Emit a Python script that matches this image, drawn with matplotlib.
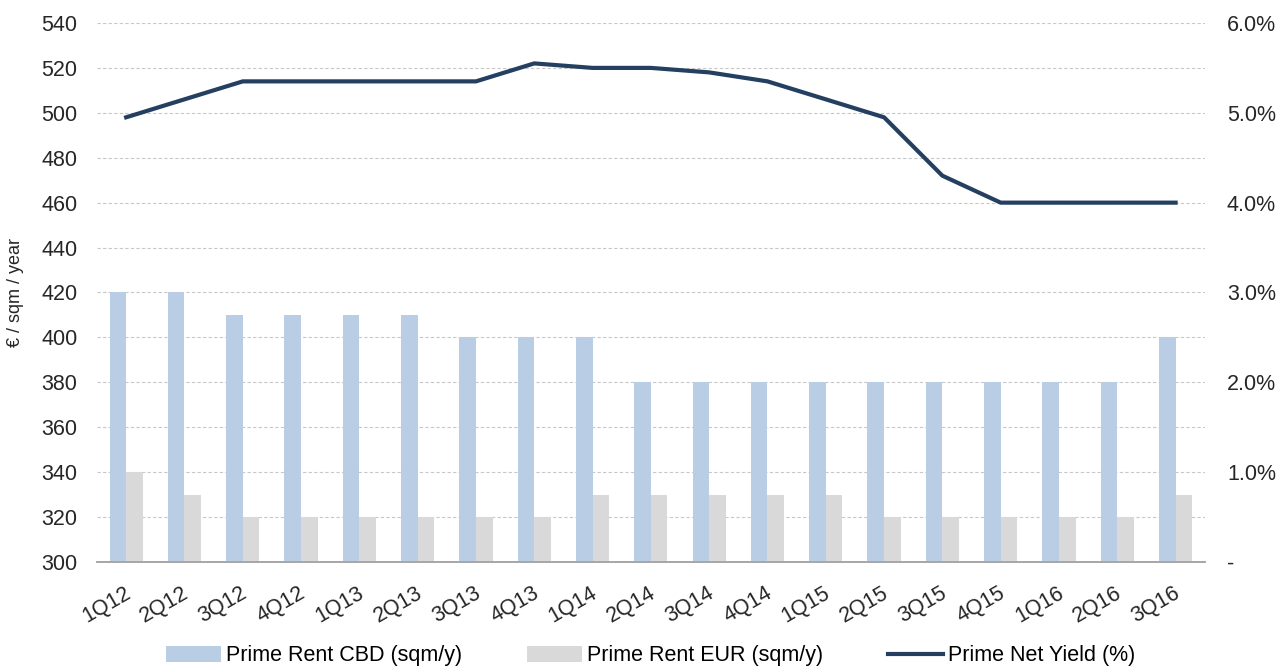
import numpy as np
import matplotlib.pyplot as plt
import matplotlib.transforms as mtransforms
from matplotlib.ticker import FuncFormatter

plt.rcParams['font.family'] = ['Liberation Sans', 'DejaVu Sans']

quarters = ['1Q12', '2Q12', '3Q12', '4Q12', '1Q13', '2Q13', '3Q13', '4Q13', '1Q14', '2Q14',
            '3Q14', '4Q14', '1Q15', '2Q15', '3Q15', '4Q15', '1Q16', '2Q16', '3Q16']
rent_cbd = [420, 420, 410, 410, 410, 410, 400, 400, 400, 380,
            380, 380, 380, 380, 380, 380, 380, 380, 400]
rent_eur = [340, 330, 320, 320, 320, 320, 320, 320, 330, 330,
            330, 330, 330, 320, 320, 320, 320, 320, 330]
net_yield = [4.95, 5.15, 5.35, 5.35, 5.35, 5.35, 5.35, 5.55, 5.5, 5.5,
             5.45, 5.35, 5.15, 4.95, 4.3, 4.0, 4.0, 4.0, 4.0]

fig = plt.figure(figsize=(12.83, 6.68), dpi=100)
ax = fig.add_axes([0.0756, 0.1587, 0.8634, 0.8069])
ax2 = ax.twinx()

x = np.arange(len(quarters))
w = 0.285
ax.bar(x - w / 2, rent_cbd, w, color='#B9CDE5', label='Prime Rent CBD (sqm/y)', zorder=2)
ax.bar(x + w / 2, rent_eur, w, color='#D9D9D9', label='Prime Rent EUR (sqm/y)', zorder=2)
ax2.plot(x, net_yield, color='#243F60', linewidth=3, label='Prime Net Yield (%)')

ax.set_xlim(-0.5, len(quarters) - 0.5)
ax.set_ylim(300, 540)
ax.set_yticks(range(300, 541, 20))
ax.grid(axis='y', color='#C8C8C8', linestyle=(0, (3, 2)), linewidth=0.8, zorder=0)
ax.set_ylabel('€ / sqm / year', fontsize=13, color='#262626')
ax.yaxis.set_label_coords(-0.066, 0.5)

ax2.set_ylim(0, 6)
ax2.set_yticks(range(0, 7))
ax2.yaxis.set_major_formatter(FuncFormatter(lambda v, p: '-' if v == 0 else f'{v:.1f}%'))

ax.tick_params(axis='y', labelsize=15.5, labelcolor='#262626', length=0, pad=14)
ax.tick_params(axis='x', length=0, pad=15)
ax2.tick_params(axis='y', labelsize=15.5, labelcolor='#262626', length=0, pad=16)

ax.set_xticks(x)
ax.set_xticklabels(quarters, rotation=30, ha='right', fontsize=15.5, color='#262626')
# nudge rotated labels to the right, like the original
shift = mtransforms.ScaledTranslation(6 / 72, 0, fig.dpi_scale_trans)
for lbl in ax.xaxis.get_majorticklabels():
    lbl.set_transform(lbl.get_transform() + shift)

for a in (ax, ax2):
    for s in ('top', 'left', 'right'):
        a.spines[s].set_visible(False)
    a.spines['bottom'].set_color('#A6A6A6')
    a.spines['bottom'].set_linewidth(1.2)

h1, l1 = ax.get_legend_handles_labels()
h2, l2 = ax2.get_legend_handles_labels()
fig.legend(h1 + h2, l1 + l2, loc='center', bbox_to_anchor=(0.507, 0.018), ncol=3,
           frameon=False, fontsize=15.5, handlelength=2.55, handleheight=0.8,
           columnspacing=3.0, handletextpad=0.25)

fig.savefig('out.png', dpi=100)
